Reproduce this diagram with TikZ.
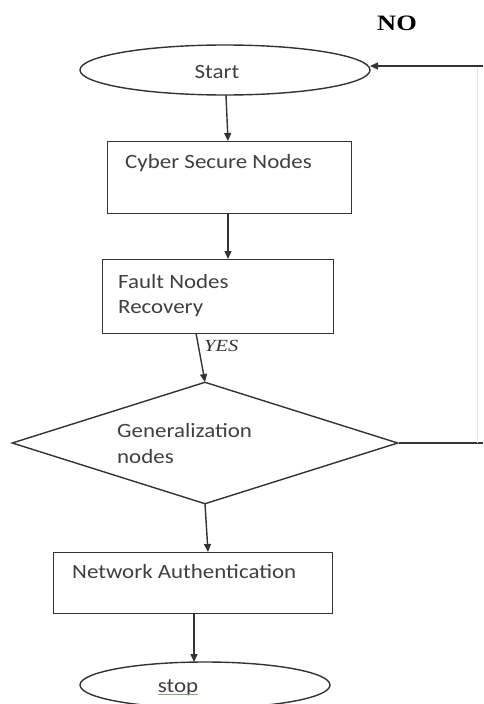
\documentclass[tikz,border=0pt]{standalone}
\usepackage{fontspec}
\setmainfont{Carlito}[FakeStretch=1.13]
\newfontfamily\nofont{Liberation Serif}[FakeStretch=1.2]
\usetikzlibrary{shapes.geometric,arrows.meta}
\definecolor{ink}{HTML}{333333}
\definecolor{txt}{HTML}{404040}
\definecolor{spell}{HTML}{7FA87F}
\tikzset{
  box/.style={draw=ink,line width=1.4pt,rectangle,inner sep=0pt,anchor=north west},
  oval/.style={draw=ink,line width=1.4pt,ellipse,inner sep=0pt},
  lbl/.style={anchor=west,inner sep=0pt,text=txt,font=\fontsize{20.3}{22}\selectfont},
  arr/.style={draw=ink,line width=1.4pt,-{Triangle[length=8pt,width=7pt]}},
  ln/.style={draw=ink,line width=1.4pt}
}
\begin{document}
\begin{tikzpicture}[x=1pt,y=-1pt]
\useasboundingbox[fill=white] (0,0) rectangle (483,704);
% nodes
\node[oval,minimum width=290pt,minimum height=50pt] (start) at (225,70) {};
\node[lbl,anchor=center] (tstart) at (217,72) {Start};
\node[box,minimum width=244pt,minimum height=72pt] (cyber) at (107,141) {};
\node[lbl] (tcyber) at (125,163) {Cyber Secure Nodes};
\node[box,minimum width=231pt,minimum height=74pt] (fault) at (102,259) {};
\node[lbl] (tfault1) at (118,282) {Fault Nodes};
\node[lbl] (tfault2) at (118,309) {Recovery};
\node[draw=ink,line width=1.4pt,diamond,inner sep=0pt,minimum width=386pt,minimum height=122pt] (gen) at (205,443) {};
\node[lbl] (tgen1) at (117,431) {Generalization};
\node[lbl] (tgen2) at (117,457) {nodes};
\node[box,minimum width=279pt,minimum height=61pt] (net) at (53,552) {};
\node[lbl] (tnet) at (72,572) {Network Authentication};
\node[oval,minimum width=250pt,minimum height=46pt] (stop) at (205,685) {};
\node[lbl,anchor=center] (tstop) at (178,688) {stop};
\draw[draw=spell,line width=1.1pt] ([yshift=1.5pt]tstop.south west) -- ([yshift=1.5pt]tstop.south east);
\node[anchor=center,inner sep=0pt,font=\nofont\bfseries\fontsize{22}{24}\selectfont,text=black] (no) at (397,23) {NO};
\node[anchor=west,inner sep=0pt,font=\nofont\itshape\fontsize{17}{19}\selectfont,text=ink] (yes) at (204,346) {YES};
% coordinates
\coordinate (s1) at (226,95);
\coordinate (c1) at (228,141);
\coordinate (c2) at (228,213);
\coordinate (f1) at (228,259);
\coordinate (f2) at (196,333);
\coordinate (g1) at (205,382);
\coordinate (g2) at (205,504);
\coordinate (n1) at (208,552);
\coordinate (n2) at (194,613);
\coordinate (p1) at (194,662);
\coordinate (r1) at (483,443);
\coordinate (r2) at (483,66);
\coordinate (v1) at (477,66);
\coordinate (v2) at (477,443);
\coordinate (se) at (370,66);
% connectors
\draw[arr] (s1) -- (c1);
\draw[arr] (c2) -- (f1);
\draw[arr] (f2) -- (g1);
\draw[arr] (g2) -- (n1);
\draw[arr] (n2) -- (p1);
\draw[ln] (gen.east) -- (r1);
\draw[draw=gray!20,line width=1pt] (v1) -- (v2);
\draw[arr] (r2) -- (se);
\end{tikzpicture}
\end{document}
